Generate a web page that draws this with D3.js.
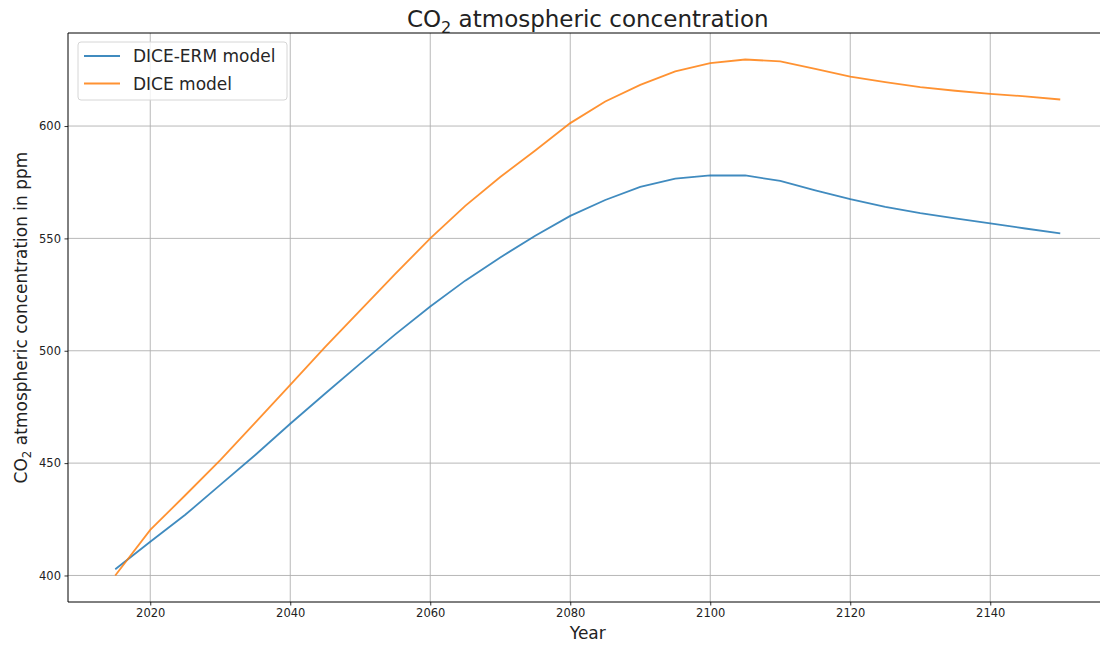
<!DOCTYPE html>
<html>
<head>
<meta charset="utf-8">
<script src="https://cdn.jsdelivr.net/npm/d3@7"></script>
<style>
  body { margin: 0; background: #fff; }
  svg { display: block; font-family: "DejaVu Sans", sans-serif; }
</style>
</head>
<body>
<svg id="chart" width="1100" height="646"></svg>
<script>
// データ (5年ごと)
const years = d3.range(2015, 2151, 5);
const dice = [400, 420.3, 435.7, 451.3, 468, 484.8, 501.7, 518, 534.2, 550, 564.5, 577.3, 589.1, 601.3,
  610.9, 618.3, 624.3, 628, 629.6, 628.8, 625.4, 622, 619.5, 617.3, 615.7, 614.3, 613.2, 611.8];
const diceErm = [402.8, 415, 427, 440.3, 453.6, 467.5, 481, 494.3, 507.3, 519.7, 531.2, 541.5, 551.2, 560,
  567.1, 572.9, 576.6, 578, 578, 575.6, 571.4, 567.5, 564, 561.2, 558.9, 556.7, 554.4, 552.2];
const xTicks = [2020, 2040, 2060, 2080, 2100, 2120, 2140];
const yTicks = [400, 450, 500, 550, 600];

const seriesList = [
    { name: 'DICE-ERM model', values: diceErm, color: '#1f77b4' },
    { name: 'DICE model', values: dice, color: '#ff7f0e' }
];

const svg = d3.select('#chart');
const plotLeft = 68, plotTop = 33, plotBottom = 602;

// 軸の範囲 (matplotlib の 5% マージン)
const xScale = d3.scaleLinear().domain([2008.25, 2156.75]).range([plotLeft, plotLeft + 148.5 * 7]);
const yScale = d3.scaleLinear().domain([388.2, 641.4]).range([plotBottom, plotTop]);
const plotRight = xScale.range()[1];

// グリッド
const grid = svg.append('g');
grid.selectAll('.gx').data(xTicks).enter().append('line')
    .attr('x1', d => xScale(d)).attr('x2', d => xScale(d))
    .attr('y1', plotTop).attr('y2', plotBottom)
    .attr('stroke', '#b0b0b0').attr('stroke-width', 0.9);
grid.selectAll('.gy').data(yTicks).enter().append('line')
    .attr('x1', plotLeft).attr('x2', plotRight)
    .attr('y1', d => yScale(d)).attr('y2', d => yScale(d))
    .attr('stroke', '#b0b0b0').attr('stroke-width', 0.9);

// 線
const line = d3.line()
    .x((d, i) => xScale(years[i]))
    .y(d => yScale(d));

seriesList.forEach(s => {
    svg.append('path')
        .datum(s.values)
        .attr('d', line)
        .attr('fill', 'none')
        .attr('stroke', s.color)
        .attr('stroke-opacity', 0.85)
        .attr('stroke-width', 1.8);
});

// 軸
const xAxis = d3.axisBottom(xScale).tickValues(xTicks).tickSize(3.5).tickPadding(3.5).tickFormat(d3.format('d'));
const yAxis = d3.axisLeft(yScale).tickValues(yTicks).tickSize(3.5).tickPadding(3.5);

const gx = svg.append('g').attr('transform', `translate(0,${plotBottom})`).call(xAxis);
const gy = svg.append('g').attr('transform', `translate(${plotLeft},0)`).call(yAxis);
[gx, gy].forEach(g => {
    g.select('.domain').remove();
    g.selectAll('.tick line').attr('stroke', '#000').attr('stroke-width', 0.8);
    g.selectAll('.tick text').attr('fill', '#222').style('font-size', '11.5px').style('font-family', 'DejaVu Sans');
});

// 枠線
svg.append('line').attr('x1', plotLeft).attr('x2', plotRight).attr('y1', plotBottom).attr('y2', plotBottom).attr('stroke', '#000').attr('stroke-width', 1);
svg.append('line').attr('x1', plotLeft).attr('x2', plotRight).attr('y1', plotTop).attr('y2', plotTop).attr('stroke', '#000').attr('stroke-width', 1);
svg.append('line').attr('x1', plotLeft).attr('x2', plotLeft).attr('y1', plotTop).attr('y2', plotBottom).attr('stroke', '#000').attr('stroke-width', 1);
svg.append('line').attr('x1', plotRight).attr('x2', plotRight).attr('y1', plotTop).attr('y2', plotBottom).attr('stroke', '#000').attr('stroke-width', 1);

// CO2 テキスト (下付き文字)
function co2Text(sel, rest, size) {
    sel.append('tspan').text('CO');
    sel.append('tspan').text('2').style('font-size', (size * 0.7) + 'px').attr('dy', size * 0.25);
    sel.append('tspan').text(rest).attr('dy', -size * 0.25);
}

const title = svg.append('text')
    .attr('x', (plotLeft + plotRight) / 2).attr('y', 27)
    .attr('text-anchor', 'middle')
    .style('font-size', '23px').attr('fill', '#222');
co2Text(title, ' atmospheric concentration', 23);

const ylab = svg.append('text')
    .attr('transform', `translate(27,${(plotTop + plotBottom) / 2}) rotate(-90)`)
    .attr('text-anchor', 'middle')
    .style('font-size', '17px').attr('fill', '#222');
co2Text(ylab, ' atmospheric concentration in ppm', 17);

svg.append('text')
    .attr('x', (plotLeft + plotRight) / 2).attr('y', 639)
    .attr('text-anchor', 'middle')
    .style('font-size', '17px').attr('fill', '#222')
    .text('Year');

// 凡例
const legend = svg.append('g').attr('transform', 'translate(78,42)');
legend.append('rect')
    .attr('width', 209).attr('height', 58).attr('rx', 3)
    .attr('fill', '#fff').attr('fill-opacity', 0.8)
    .attr('stroke', '#d6d6d6');
seriesList.forEach((s, i) => {
    const y = 14 + i * 27.5;
    legend.append('line')
        .attr('x1', 6).attr('x2', 42).attr('y1', y).attr('y2', y)
        .attr('stroke', s.color).attr('stroke-opacity', 0.85).attr('stroke-width', 1.8);
    legend.append('text')
        .attr('x', 55).attr('y', y + 6)
        .style('font-size', '17px').attr('fill', '#262626')
        .text(s.name);
});
</script>
</body>
</html>
